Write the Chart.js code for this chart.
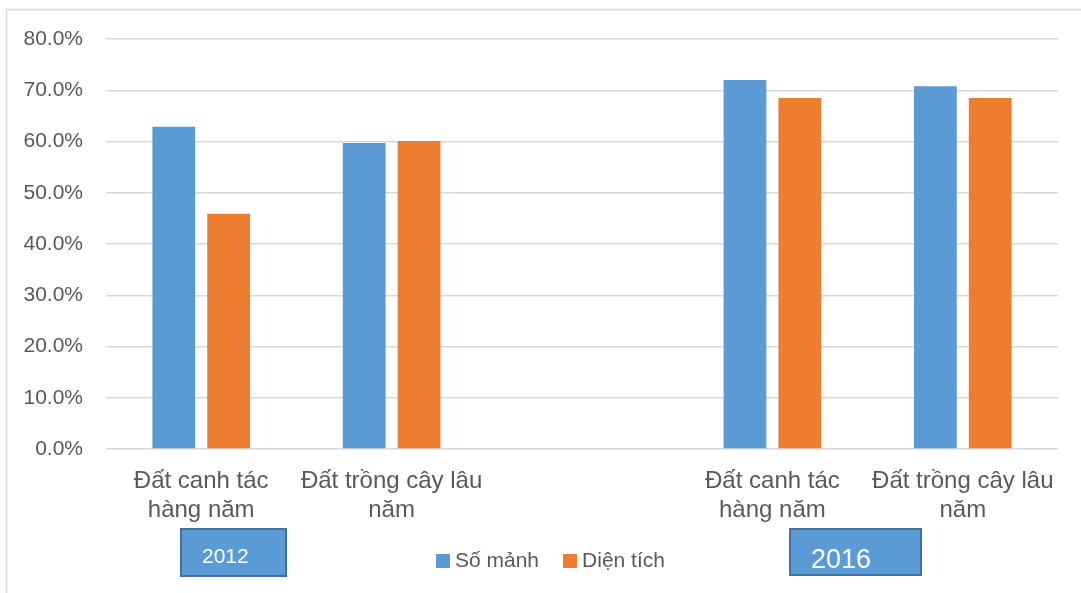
<!DOCTYPE html>
<html>
<head>
<meta charset="utf-8">
<script src="https://cdn.jsdelivr.net/npm/chart.js@4.4.0/dist/chart.umd.min.js"></script>
<style>
  html, body { margin: 0; padding: 0; background: #fff; }
  #wrap { width: 1081px; height: 593px; position: relative; }
</style>
</head>
<body>
<div id="wrap"><canvas id="myChart" width="1081" height="593"></canvas></div>
<script>
//------------------------ Dữ liệu ------------------------
var categories = [
    ["Đất canh tác", "hàng năm"],
    ["Đất trồng cây lâu", "năm"],
    "",
    ["Đất canh tác", "hàng năm"],
    ["Đất trồng cây lâu", "năm"]
];
var soManh = [62.9, 59.7, null, 72.0, 70.8];
var dienTich = [45.9, 60.1, null, 68.5, 68.5];
var seriesNames = ["Số mảnh", "Diện tích"];
var yearLabels = ["2012", "2016"];

var BLUE = '#5b9bd5';
var ORANGE = '#ed7d31';
var TEXT = '#595959';
var FONT = '"Liberation Sans", Arial, sans-serif';

// khung, chú thích và ô năm
var extras = {
    id: 'extras',
    beforeDraw: function (chart) {
        var c = chart.ctx;
        c.save();
        c.strokeStyle = '#d9d9d9';
        c.lineWidth = 1.5;
        c.beginPath();
        c.moveTo(6.5, 593);
        c.lineTo(6.5, 9.5);
        c.lineTo(1081, 9.5);
        c.stroke();
        c.restore();
    },
    afterDraw: function (chart) {
        var c = chart.ctx;
        c.save();
        // chú thích
        c.font = '21px ' + FONT;
        c.textBaseline = 'alphabetic';
        var x = 436;
        chart.data.datasets.forEach(function (ds) {
            c.fillStyle = ds.backgroundColor;
            c.fillRect(x, 554, 14, 14);
            c.fillStyle = TEXT;
            c.fillText(ds.label, x + 19, 567);
            x += 19 + c.measureText(ds.label).width + 24;
        });
        // ô năm
        var boxes = [
            {x: 181, y: 529, w: 105, h: 47, size: 21, tx: 202, ty: 563},
            {x: 790, y: 529, w: 131, h: 46, size: 27, tx: 811, ty: 568}
        ];
        boxes.forEach(function (b, i) {
            c.fillStyle = BLUE;
            c.fillRect(b.x, b.y, b.w, b.h);
            c.strokeStyle = '#41719c';
            c.lineWidth = 2;
            c.strokeRect(b.x, b.y, b.w, b.h);
            c.fillStyle = '#ffffff';
            c.font = b.size + 'px ' + FONT;
            c.fillText(yearLabels[i], b.tx, b.ty);
        });
        c.restore();
    }
};

var ctx = document.getElementById("myChart").getContext('2d');
var myChart = new Chart(ctx, {
    type: 'bar',
    data: {
        labels: categories,
        datasets: [{
            label: seriesNames[0],
            data: soManh,
            backgroundColor: BLUE
        }, {
            label: seriesNames[1],
            data: dienTich,
            backgroundColor: ORANGE
        }]
    },
    options: {
        responsive: false,
        animation: false,
        categoryPercentage: 0.576,
        barPercentage: 0.78,
        layout: { padding: { top: 39, right: 23, bottom: 0, left: 0 } },
        plugins: {
            legend: { display: false },
            tooltip: { enabled: false }
        },
        scales: {
            x: {
                grid: { display: false },
                border: { display: false },
                ticks: {
                    color: TEXT,
                    font: { family: FONT, size: 24, lineHeight: 1.2 },
                    padding: 10,
                    maxRotation: 0,
                    autoSkip: false
                },
                afterFit: function (s) { s.height = 144; }
            },
            y: {
                min: 0,
                max: 80,
                border: { display: false },
                grid: { color: '#d9d9d9', lineWidth: 1.5, drawTicks: false },
                ticks: {
                    stepSize: 10,
                    color: TEXT,
                    font: { family: FONT, size: 21 },
                    padding: 23,
                    callback: function (v) { return v.toFixed(1) + '%'; }
                },
                afterFit: function (s) { s.width = 106; }
            }
        }
    },
    plugins: [extras]
});
</script>
</body>
</html>
